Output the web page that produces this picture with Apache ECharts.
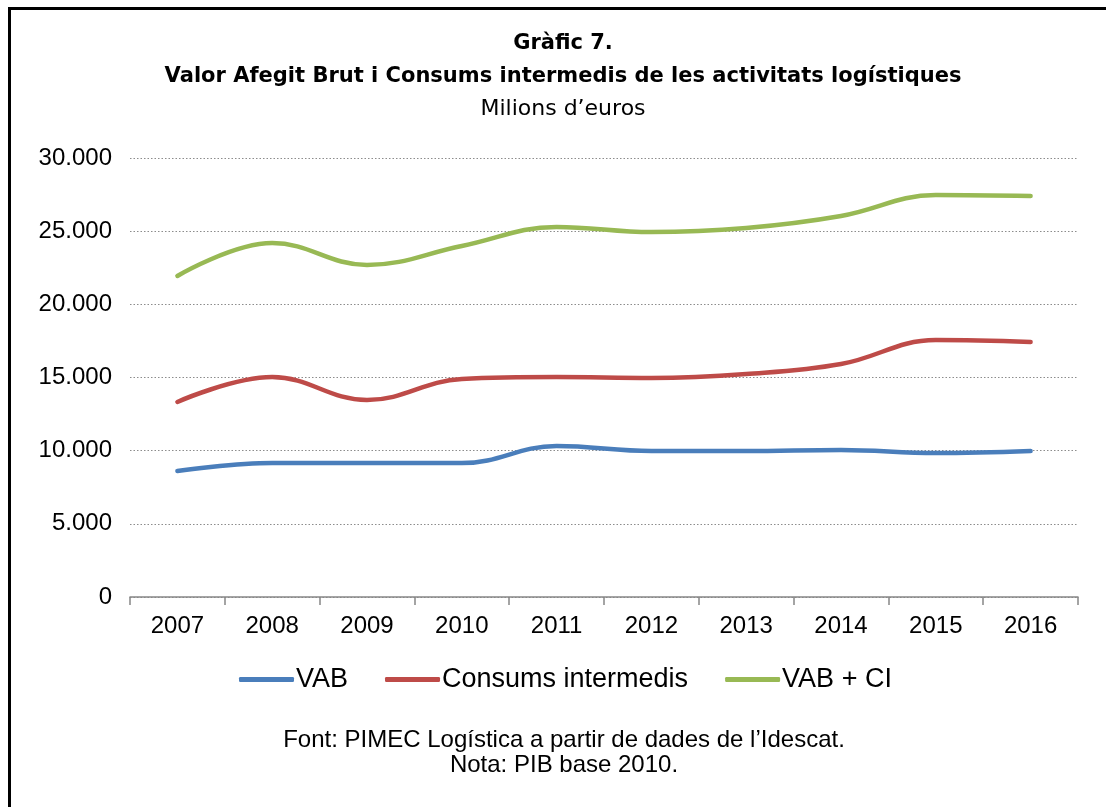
<!DOCTYPE html>
<html>
<head>
<meta charset="utf-8">
<script src="https://cdn.jsdelivr.net/npm/echarts@6/dist/echarts.min.js"></script>
<style>
  html, body { margin: 0; padding: 0; background: #fff; }
  #chart { width: 1106px; height: 807px; }
</style>
</head>
<body>
<div id="chart"></div>
<script>
const years = ['2007', '2008', '2009', '2010', '2011', '2012', '2013', '2014', '2015', '2016']
const vab = [8610, 9160, 9160, 9150, 10320, 9980, 9980, 10050, 9840, 9980]
const consums = [13330, 15030, 13460, 14900, 15030, 14970, 15240, 15920, 17560, 17430]
const vabCi = [21940, 24190, 22690, 23990, 25290, 24940, 25220, 26040, 27470, 27400]

const chart = echarts.init(document.getElementById('chart'))

function lineSeries(name, data, color) {
  return {
    name,
    type: 'line',
    data,
    smooth: 0.4,
    symbol: 'none',
    lineStyle: { color, width: 4.5, cap: 'round' },
    itemStyle: { color }
  }
}

const titleFont = 'DejaVu Sans'

const option = {
  backgroundColor: '#fff',
  animation: false,
  legend: {
    data: ['VAB', 'Consums intermedis', 'VAB + CI'],
    left: 234,
    top: 661,
    itemWidth: 55,
    itemHeight: 5,
    itemGap: 37,
    icon: 'roundRect',
    textStyle: { fontFamily: 'Liberation Sans', fontSize: 27, color: '#000', padding: [0, 0, 0, -3] }
  },
  grid: { left: 130, right: 28, top: 158, bottom: 210 },
  xAxis: {
    type: 'category',
    data: years,
    boundaryGap: true,
    axisLine: { lineStyle: { color: '#868686', width: 1.5 } },
    axisTick: { show: true, length: 8, lineStyle: { color: '#868686', width: 1.5 } },
    axisLabel: { fontFamily: 'Liberation Sans', fontSize: 24, color: '#000', margin: 17 }
  },
  yAxis: {
    type: 'value',
    min: 0,
    max: 30000,
    interval: 5000,
    axisLine: { show: false },
    axisTick: { show: false },
    axisLabel: {
      fontFamily: 'Liberation Sans',
      fontSize: 24,
      color: '#000',
      margin: 18,
      formatter: v => v === 0 ? '0' : (v / 1000).toFixed(0) + '.000'
    },
    splitLine: { lineStyle: { color: '#8c8c8c', type: [1.5, 2], width: 1.2 } }
  },
  series: [
    lineSeries('VAB', vab, '#4a7ebb'),
    lineSeries('Consums intermedis', consums, '#be4b48'),
    lineSeries('VAB + CI', vabCi, '#98b954')
  ],
  graphic: [
    { type: 'line', shape: { x1: 8, y1: 8.5, x2: 1106, y2: 8.5 }, style: { stroke: '#000', lineWidth: 3 } },
    { type: 'line', shape: { x1: 9.5, y1: 7, x2: 9.5, y2: 807 }, style: { stroke: '#000', lineWidth: 3 } },
    {
      type: 'text', x: 563, y: 44,
      style: { text: 'Gràfic 7.', align: 'center', verticalAlign: 'middle', font: 'bold 21px "' + titleFont + '"', fill: '#000' }
    },
    {
      type: 'text', x: 563, y: 77,
      style: { text: 'Valor Afegit Brut i Consums intermedis de les activitats logístiques', align: 'center', verticalAlign: 'middle', font: 'bold 21px "' + titleFont + '"', fill: '#000' }
    },
    {
      type: 'text', x: 563, y: 109,
      style: { text: 'Milions d\u2019euros', align: 'center', verticalAlign: 'middle', font: '22px "' + titleFont + '"', fill: '#000' }
    },
    {
      type: 'text', x: 564, y: 740,
      style: { text: 'Font: PIMEC Logística a partir de dades de l\u2019Idescat.', align: 'center', verticalAlign: 'middle', font: '24px "Liberation Sans"', fill: '#000' }
    },
    {
      type: 'text', x: 564, y: 765,
      style: { text: 'Nota: PIB base 2010.', align: 'center', verticalAlign: 'middle', font: '24px "Liberation Sans"', fill: '#000' }
    }
  ]
}

chart.setOption(option)
</script>
</body>
</html>
